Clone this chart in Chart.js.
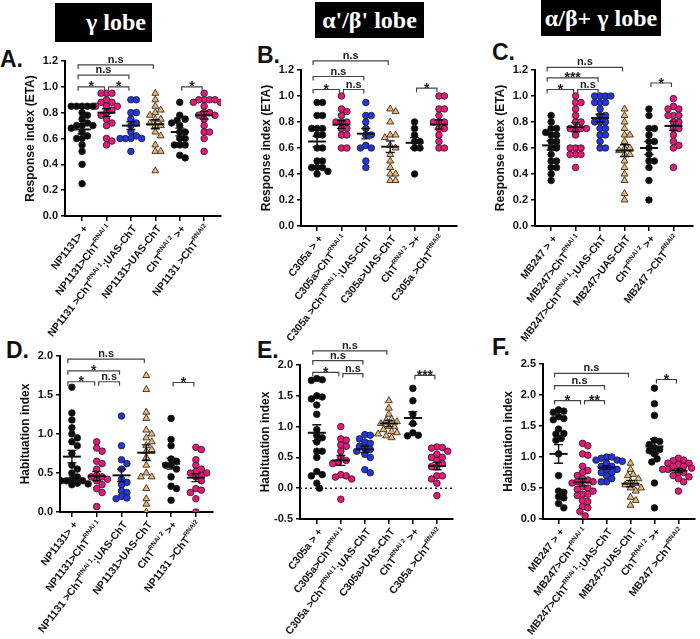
<!DOCTYPE html>
<html>
<head>
<meta charset="utf-8">
<script src="https://cdn.jsdelivr.net/npm/chart.js@4.4.1/dist/chart.umd.min.js"></script>
<style>
  body { margin: 0; background: #fff; width: 700px; height: 639px; position: relative; overflow: hidden; }
  canvas { position: absolute; }
  .lobe { position: absolute; background: #000; color: #fff; font: bold 24px "Liberation Serif", "Times New Roman", serif;
          display: flex; align-items: center; justify-content: center; box-sizing: border-box; white-space: nowrap; }
  .letter { position: absolute; font: bold 23px "Liberation Sans", Arial, sans-serif; line-height: 1; color: #111; }
</style>
</head>
<body>
<div class="lobe" style="left:55px;top:3px;width:97px;height:39px;justify-content:flex-end;padding-right:6px">γ lobe</div>
<div class="lobe" style="left:315px;top:2px;width:109px;height:36px">α'/β' lobe</div>
<div class="lobe" style="left:541px;top:0px;width:120px;height:36px">α/β+ γ lobe</div>

<div class="letter" style="left:0px;top:48px">A.</div>
<div class="letter" style="left:257px;top:44px">B.</div>
<div class="letter" style="left:492px;top:41px">C.</div>
<div class="letter" style="left:6px;top:339px">D.</div>
<div class="letter" style="left:257px;top:339px">E.</div>
<div class="letter" style="left:492px;top:336px">F.</div>

<canvas id="cA" width="232" height="320" style="left:0px;top:40px"></canvas>
<canvas id="cB" width="230" height="320" style="left:232px;top:40px"></canvas>
<canvas id="cC" width="238" height="320" style="left:462px;top:40px"></canvas>
<canvas id="cD" width="230" height="309" style="left:0px;top:330px"></canvas>
<canvas id="cE" width="230" height="309" style="left:230px;top:330px"></canvas>
<canvas id="cF" width="240" height="309" style="left:460px;top:330px"></canvas>

<script>
// category labels (<sup> = superscript)
const catA = ["NP1131> +", "NP1131>ChT<sup>RNAi 1</sup>", "NP1131 >ChT<sup>RNAi 1</sup>;UAS-ChT", "NP1131>UAS-ChT", "ChT<sup>RNAi 2</sup> >+", "NP1131 >ChT<sup>RNAi2</sup>"];
const catB = ["C305a > +", "C305a>ChT<sup>RNAi 1</sup>", "C305a >ChT<sup>RNAi 1</sup>;UAS-ChT", "C305a>UAS-ChT", "ChT<sup>RNAi 2</sup> >+", "C305a >ChT<sup>RNAi2</sup>"];
const catC = ["MB247 > +", "MB247>ChT<sup>RNAi 1</sup>", "MB247>ChT<sup>RNAi 1</sup>;UAS-ChT", "MB247>UAS-ChT", "ChT<sup>RNAi 2</sup> >+", "MB247 >ChT<sup>RNAi2</sup>"];

// response index (ETA)
const valA = [
  [0.85,0.85,0.85,0.85,0.85,0.8,0.78,0.75,0.72,0.7,0.7,0.7,0.68,0.65,0.62,0.6,0.6,0.55,0.5,0.4,0.25],
  [0.95,0.95,0.95,0.9,0.88,0.88,0.85,0.85,0.85,0.82,0.8,0.78,0.75,0.72,0.7,0.6,0.58,0.55],
  [0.9,0.9,0.8,0.8,0.75,0.72,0.7,0.65,0.62,0.6,0.6,0.6,0.6,0.5],
  [0.95,0.9,0.85,0.82,0.8,0.78,0.75,0.75,0.72,0.7,0.7,0.65,0.62,0.55,0.5,0.5,0.35],
  [0.88,0.78,0.75,0.74,0.72,0.7,0.65,0.65,0.6,0.6,0.55,0.55,0.55,0.47,0.45],
  [0.95,0.9,0.9,0.9,0.9,0.88,0.88,0.85,0.8,0.8,0.78,0.78,0.75,0.7,0.65,0.65,0.6,0.5]
];
const meanA = [0.67, 0.80, 0.70, 0.71, 0.65, 0.78];
const semA = [0.035, 0.03, 0.03, 0.035, 0.03, 0.03];
const sigA = [[0,1,1.0,"*"], [1,2,1.0,"*"], [0,2,1.09,"n.s"], [0,3,1.17,"n.s"], [4,5,1.0,"*"]];

const valB = [
  [0.95,0.95,0.85,0.85,0.75,0.75,0.75,0.7,0.7,0.6,0.6,0.5,0.5,0.45,0.45,0.45,0.42,0.4],
  [1.0,0.9,0.88,0.85,0.8,0.8,0.8,0.75,0.75,0.7,0.7,0.6,0.6],
  [0.95,0.85,0.85,0.8,0.75,0.7,0.7,0.62,0.6,0.6,0.5,0.45],
  [0.9,0.88,0.8,0.7,0.7,0.68,0.62,0.6,0.55,0.5,0.45,0.4,0.4,0.35,0.35],
  [0.8,0.75,0.7,0.65,0.65,0.6,0.6,0.4],
  [1.0,1.0,0.9,0.9,0.85,0.8,0.8,0.8,0.75,0.75,0.7,0.65,0.6,0.6]
];
const meanB = [0.65, 0.78, 0.71, 0.61, 0.64, 0.78];
const semB = [0.04, 0.03, 0.04, 0.045, 0.04, 0.035];
const sigB = [[0,1,1.05,"*"], [1,2,1.05,"n.s"], [0,2,1.15,"n.s"], [0,3,1.27,"n.s"], [4,5,1.06,"*"]];

const valC = [
  [0.85,0.8,0.75,0.75,0.72,0.7,0.7,0.65,0.65,0.6,0.6,0.55,0.5,0.5,0.45,0.45,0.4,0.35],
  [1.0,0.95,0.95,0.9,0.85,0.8,0.8,0.75,0.75,0.75,0.75,0.7,0.6,0.6,0.6,0.55,0.55,0.55,0.45],
  [1.0,1.0,1.0,1.0,0.95,0.95,0.95,0.9,0.85,0.85,0.8,0.8,0.8,0.75,0.75,0.7,0.7,0.65,0.6,0.6],
  [0.9,0.85,0.8,0.75,0.7,0.7,0.65,0.6,0.6,0.58,0.55,0.55,0.5,0.45,0.4,0.35,0.25,0.2],
  [0.9,0.85,0.75,0.75,0.7,0.65,0.65,0.6,0.55,0.5,0.5,0.45,0.35,0.2],
  [0.98,0.92,0.9,0.9,0.85,0.85,0.85,0.8,0.8,0.75,0.75,0.7,0.65,0.62,0.6,0.45]
];
const meanC = [0.62, 0.76, 0.83, 0.58, 0.60, 0.77];
const semC = [0.035, 0.035, 0.03, 0.045, 0.05, 0.035];
const sigC = [[0,1,1.05,"*"], [1,2,1.05,"n.s"], [0,2,1.14,"***"], [0,3,1.22,"n.s"], [4,5,1.1,"*"]];

// habituation index
const valD = [
  [1.6,1.27,1.18,1.08,1.0,0.95,0.9,0.85,0.75,0.6,0.55,0.5,0.45,0.42,0.4,0.4,0.4,0.37,0.36,0.35],
  [0.9,0.82,0.78,0.65,0.62,0.55,0.47,0.45,0.45,0.42,0.4,0.35,0.3,0.25,0.07],
  [1.23,0.85,0.67,0.62,0.55,0.42,0.38,0.35,0.27,0.25,0.2,0.18,0.17],
  [1.75,1.57,1.28,1.2,1.05,1.0,0.95,0.9,0.85,0.8,0.78,0.7,0.6,0.5,0.45,0.45,0.3,0.17,0.1,0.0],
  [1.2,0.93,0.85,0.68,0.65,0.6,0.6,0.55,0.45,0.33,0.3,0.15],
  [0.83,0.8,0.67,0.6,0.55,0.52,0.5,0.5,0.47,0.45,0.4,0.3,0.28,0.25,0.17,0.0]
];
const meanD = [0.71, 0.46, 0.47, 0.76, 0.62, 0.44];
const semD = [0.08, 0.06, 0.08, 0.1, 0.07, 0.05];
const sigD = [[0,1,1.67,"*"], [1,2,1.67,"n.s"], [0,2,1.81,"*"], [0,3,1.96,"n.s"], [4,5,1.66,"*"]];

const valE = [
  [1.78,1.76,1.75,1.5,1.48,1.45,1.35,1.2,0.95,0.85,0.82,0.75,0.6,0.6,0.5,0.27,0.22,0.2,0.08,0.0],
  [1.0,0.8,0.78,0.7,0.68,0.6,0.5,0.45,0.42,0.4,0.22,0.2,0.18,0.15,-0.18],
  [0.87,0.86,0.8,0.75,0.73,0.68,0.65,0.63,0.6,0.55,0.5,0.3,0.25],
  [1.42,1.3,1.2,1.12,1.1,1.08,1.05,1.0,1.0,0.95,0.92,0.9,0.88,0.85,0.82],
  [1.62,1.42,1.2,1.05,0.9,0.86,0.85],
  [0.67,0.66,0.65,0.6,0.55,0.5,0.5,0.45,0.4,0.35,0.35,0.2,0.2,0.15,0.08,-0.12]
];
const meanE = [0.90, 0.45, 0.63, 1.05, 1.14, 0.36];
const semE = [0.13, 0.08, 0.05, 0.05, 0.1, 0.06];
const sigE = [[0,1,1.88,"*"], [1,2,1.86,"n.s"], [0,2,2.07,"n.s"], [0,3,2.23,"n.s"], [4,5,1.83,"***"]];

const valF = [
  [1.76,1.74,1.72,1.65,1.62,1.6,1.45,1.38,1.37,1.3,1.27,1.05,0.7,0.45,0.43,0.36,0.34,0.25,0.18],
  [1.22,1.18,1.05,1.03,0.85,0.78,0.75,0.7,0.65,0.63,0.6,0.6,0.58,0.52,0.5,0.48,0.45,0.4,0.4,0.38,0.3,0.28,0.2,0.18,0.12,0.05],
  [1.0,1.0,0.98,0.95,0.95,0.93,0.9,0.85,0.85,0.8,0.8,0.75,0.75,0.7,0.65,0.6,0.6],
  [0.9,0.8,0.72,0.7,0.65,0.6,0.57,0.55,0.5,0.5,0.45,0.35,0.3,0.22],
  [2.11,1.86,1.67,1.27,1.25,1.2,1.15,1.12,1.1,1.05,0.97,0.92,0.58,0.18],
  [0.98,0.95,0.94,0.9,0.9,0.88,0.85,0.85,0.82,0.8,0.8,0.75,0.75,0.7,0.68,0.65,0.6,0.45]
];
const meanF = [1.05, 0.59, 0.83, 0.57, 1.17, 0.78];
const semF = [0.15, 0.06, 0.03, 0.05, 0.12, 0.03];
const sigF = [[0,1,1.91,"*"], [1,2,1.91,"**"], [0,2,2.15,"n.s"], [0,3,2.35,"n.s"], [4,5,2.25,"*"]];

const groupColors = ["#0a0a0a", "#e8177a", "#2436d8", "#f3b46e", "#0a0a0a", "#e8177a"];
const FONT = '"Liberation Sans", Arial, sans-serif';
const ANGLE = 52 * Math.PI / 180;

// box = canvas [left, top, w, h]; area = plot area in page px [l, t, r, b]
const panels = [
  { id: "cA", box: [0, 40, 232, 320], area: [65, 61, 221, 216], x: [-0.7, 5.69], y: [0, 1.2, 0.2], title: "Response index (ETA)", cats: catA, vals: valA, mean: meanA, sem: semA, sig: sigA },
  { id: "cB", box: [232, 40, 230, 320], area: [301, 70, 457, 226], x: [-0.66, 5.74], y: [0, 1.2, 0.2], title: "Response index (ETA)", cats: catB, vals: valB, mean: meanB, sem: semB, sig: sigB },
  { id: "cC", box: [462, 40, 238, 320], area: [535, 70, 693, 226], x: [-0.66, 5.8], y: [0, 1.2, 0.2], title: "Response index (ETA)", cats: catC, vals: valC, mean: meanC, sem: semC, sig: sigC },
  { id: "cD", box: [0, 330, 230, 309], area: [60, 356, 213, 512], x: [-0.48, 5.69], y: [0, 2.0, 0.5], title: "Habituation index", cats: catA, vals: valD, mean: meanD, sem: semD, sig: sigD },
  { id: "cE", box: [230, 330, 230, 309], area: [300, 365, 453, 519], x: [-0.7, 5.67], y: [-0.5, 2.0, 0.5], title: "Habituation index", cats: catB, vals: valE, mean: meanE, sem: semE, sig: sigE, zeroLine: true },
  { id: "cF", box: [460, 330, 240, 309], area: [543, 364, 699, 519], x: [-0.65, 5.7], y: [0, 2.5, 0.5], title: "Habituation index", cats: catC, vals: valF, mean: meanF, sem: semF, sig: sigF }
];

// spread equal-ish values sideways so dots don't sit on top of each other
function swarm(values, pxX, pxY) {
  const order = values.map((v, k) => k).sort((a, b) => values[b] - values[a]);
  const placed = [];
  const off = new Array(values.length).fill(0);
  const minDist = 5.4, step = 2.7;
  for (const k of order) {
    const y = values[k] * pxY;
    for (let n = 0; n < 60; n++) {
      const dx = (n % 2 ? 1 : -1) * Math.ceil(n / 2) * step;
      if (placed.every(p => Math.hypot(p.x - dx, p.y - y) >= minDist)) {
        off[k] = dx; placed.push({ x: dx, y }); break;
      }
    }
  }
  return off.map(o => o / pxX);
}

function drawCatLabel(ctx, text, x, y) {
  const parts = text.split(/<sup>|<\/sup>/);
  const fonts = ["bold 10.5px " + FONT, "bold 6.5px " + FONT];
  ctx.save();
  ctx.translate(x, y);
  ctx.rotate(-ANGLE);
  ctx.textAlign = "left";
  ctx.textBaseline = "middle";
  let w = 0;
  parts.forEach((p, k) => { ctx.font = fonts[k % 2]; w += ctx.measureText(p).width; });
  let cx = -w;
  parts.forEach((p, k) => {
    ctx.font = fonts[k % 2];
    ctx.fillText(p, cx, k % 2 ? -4 : 0);
    cx += ctx.measureText(p).width;
  });
  ctx.restore();
}

function makePanel(p) {
  const [bl, bt, bw, bh] = p.box;
  const [al, at, ar, ab] = p.area;
  const pxX = (ar - al) / (p.x[1] - p.x[0]);
  const pxY = (ab - at) / (p.y[1] - p.y[0]);

  const datasets = p.vals.map((vals, i) => {
    const off = swarm(vals, pxX, pxY);
    return {
      data: vals.map((v, k) => ({ x: i + off[k], y: v })),
      pointStyle: i === 3 ? "triangle" : "circle",
      pointRadius: i === 3 ? 4 : 3.3,
      backgroundColor: groupColors[i],
      borderColor: "#1a1a1a",
      borderWidth: 0.8
    };
  });

  const overlay = {
    id: "overlay",
    beforeDatasetsDraw(chart) {
      if (!p.zeroLine) return;
      const { ctx, chartArea, scales } = chart;
      const y0 = scales.y.getPixelForValue(0);
      ctx.save();
      ctx.strokeStyle = "#222";
      ctx.lineWidth = 1.5;
      ctx.setLineDash([2, 3]);
      ctx.beginPath(); ctx.moveTo(chartArea.left, y0); ctx.lineTo(chartArea.right, y0); ctx.stroke();
      ctx.restore();
    },
    afterDatasetsDraw(chart) {
      const { ctx, scales } = chart;
      ctx.save();
      ctx.strokeStyle = "#111";
      p.mean.forEach((m, i) => {
        const cx = scales.x.getPixelForValue(i);
        const ym = scales.y.getPixelForValue(m);
        const yLo = scales.y.getPixelForValue(m - p.sem[i]);
        const yHi = scales.y.getPixelForValue(m + p.sem[i]);
        ctx.lineWidth = 2;
        ctx.beginPath(); ctx.moveTo(cx - 9, ym); ctx.lineTo(cx + 9, ym); ctx.stroke();
        ctx.lineWidth = 1.4;
        ctx.beginPath();
        ctx.moveTo(cx, yLo); ctx.lineTo(cx, yHi);
        ctx.moveTo(cx - 4.5, yLo); ctx.lineTo(cx + 4.5, yLo);
        ctx.moveTo(cx - 4.5, yHi); ctx.lineTo(cx + 4.5, yHi);
        ctx.stroke();
      });
      ctx.restore();
    },
    afterDraw(chart) {
      const { ctx, chartArea, scales } = chart;
      ctx.save();
      // brackets
      ctx.strokeStyle = "#444";
      ctx.fillStyle = "#222";
      ctx.lineWidth = 1.2;
      ctx.textAlign = "center";
      ctx.textBaseline = "alphabetic";
      p.sig.forEach(([i, j, level, label]) => {
        const y = scales.y.getPixelForValue(level);
        const x1 = scales.x.getPixelForValue(i) + (i === 0 ? -4 : 2);
        const x2 = scales.x.getPixelForValue(j) - 2;
        ctx.beginPath();
        ctx.moveTo(x1, y + 4); ctx.lineTo(x1, y); ctx.lineTo(x2, y); ctx.lineTo(x2, y + 4);
        ctx.stroke();
        if (label[0] === "*") {
          ctx.font = "bold 14px " + FONT;
          ctx.fillText(label, (x1 + x2) / 2, y + 4.5);
        } else {
          ctx.font = "bold 11px " + FONT;
          ctx.fillText(label, (x1 + x2) / 2, y - 2);
        }
      });
      // y title
      ctx.fillStyle = "#111";
      ctx.font = "bold 12px " + FONT;
      ctx.translate(chartArea.left - 34, (chartArea.top + chartArea.bottom) / 2);
      ctx.rotate(-Math.PI / 2);
      ctx.textBaseline = "middle";
      ctx.fillText(p.title, 0, 0);
      ctx.restore();
      // rotated category labels
      ctx.save();
      ctx.fillStyle = "#111";
      p.cats.forEach((c, i) => drawCatLabel(ctx, c, scales.x.getPixelForValue(i) + 4, chartArea.bottom + 11));
      ctx.restore();
    }
  };

  new Chart(document.getElementById(p.id), {
    type: "scatter",
    data: { datasets },
    plugins: [overlay],
    options: {
      responsive: false,
      animation: false,
      layout: { padding: { left: 0, top: at - bt, right: bl + bw - ar, bottom: 0 } },
      plugins: { legend: { display: false }, tooltip: { enabled: false } },
      scales: {
        x: {
          type: "linear",
          min: p.x[0], max: p.x[1],
          afterBuildTicks: s => { s.ticks = p.cats.map((c, i) => ({ value: i })); },
          afterFit: s => { s.height = bt + bh - ab; },
          ticks: { display: false },
          grid: { drawOnChartArea: false, drawTicks: true, tickLength: 5, color: "#000", tickColor: "#000", lineWidth: 1.5 },
          border: { display: true, color: "#000", width: 2 }
        },
        y: {
          min: p.y[0], max: p.y[1],
          afterFit: s => { s.width = al - bl; },
          ticks: { stepSize: p.y[2], padding: 3, color: "#111", font: { family: FONT, size: 11, weight: "bold" }, callback: v => v.toFixed(1) },
          grid: { drawOnChartArea: false, drawTicks: true, tickLength: 4, color: "#000", tickColor: "#000", lineWidth: 1.5 },
          border: { display: true, color: "#000", width: 2 }
        }
      }
    }
  });
}

panels.forEach(makePanel);
</script>
</body>
</html>
